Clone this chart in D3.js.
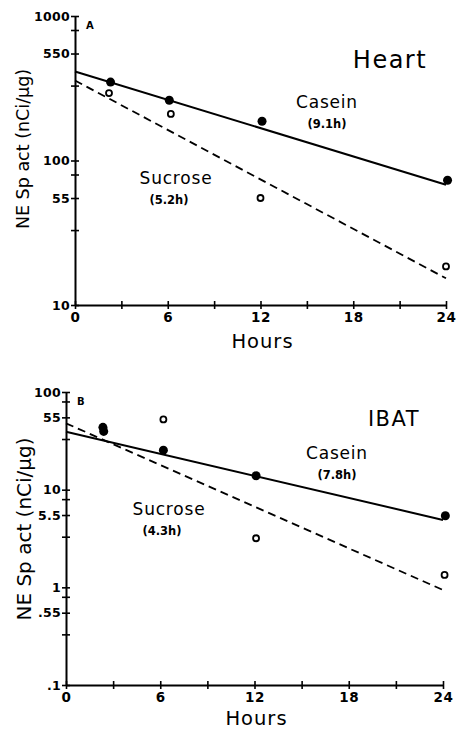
<!DOCTYPE html>
<html>
<head>
<meta charset="utf-8">
<script src="https://cdn.jsdelivr.net/npm/d3@7"></script>
<style>
  body { margin: 0; background: #fff; }
  text { font-family: "DejaVu Sans", sans-serif; fill: #000; }
</style>
</head>
<body>
<div id="chart"></div>
<script>
var width = 456;
var height = 729;

// hours ticks
var hourTicks = [0, 3, 6, 9, 12, 15, 18, 21, 24];
var hourLabels = [0, 6, 12, 18, 24];

// panel A - heart
var heartTicks = [10, 33, 55, 80, 100, 330, 550, 800, 1000];
var heartLabels = ['10', '55', '100', '550', '1000'];
var heartCaseinHours = [2.3, 6.1, 12.1, 24.1];
var heartCasein = [349, 261, 187, 73];
var heartSucroseHours = [2.2, 6.2, 12.0, 24.0];
var heartSucrose = [293, 210, 55, 18.5];
var heartCaseinFit = [[0, 413], [24, 68]];
var heartSucroseFit = [[0, 358], [24, 15.3]];

// panel B - IBAT
var ibatTicks = [0.1, 0.33, 0.55, 0.8, 1, 3.3, 5.5, 8, 10, 33, 55, 80, 100];
var ibatLabels = ['.1', '.55', '1', '5.5', '10', '55', '100'];
var ibatCaseinHours = [2.35, 2.4, 6.2, 12.1, 24.15];
var ibatCasein = [43.5, 39.5, 25.4, 13.9, 5.4];
var ibatSucroseHours = [6.2, 12.1, 24.1];
var ibatSucrose = [52.4, 3.18, 1.34];
var ibatCaseinFit = [[0, 39.2], [24, 4.9]];
var ibatSucroseFit = [[0, 47.8], [24, 0.94]];

var svg = d3.select('#chart').append('svg')
    .attr('width', width)
    .attr('height', height);

function drawPanel(p) {
    var g = svg.append('g');

    var x = d3.scaleLinear().domain([0, 24]).range([p.x0, p.x1]);
    var y = d3.scaleLog().domain(p.yDomain).range([p.yBottom, p.yTop]);

    // x axis
    var xAxis = g.append('g')
        .attr('transform', `translate(0, ${p.yBottom})`)
        .call(d3.axisBottom(x)
            .tickValues(hourTicks)
            .tickSizeOuter(0)
            .tickSizeInner(4)
            .tickPadding(3)
            .tickFormat(d => hourLabels.indexOf(d) >= 0 ? d : ''));
    xAxis.select('.domain').attr('stroke-width', 2);
    xAxis.selectAll('.tick line').attr('y1', -4).attr('y2', 4).attr('stroke-width', 1.6);
    xAxis.selectAll('.tick text')
        .style('font-family', '"DejaVu Sans", sans-serif')
        .style('font-size', '13.5px')
        .style('font-weight', 'bold')
        .style('letter-spacing', '0.5px');

    // y axis
    var yAxis = g.append('g')
        .attr('transform', `translate(${p.x0}, 0)`)
        .call(d3.axisLeft(y)
            .tickValues(p.ticks)
            .tickSizeOuter(0)
            .tickSizeInner(4)
            .tickPadding(1)
            .tickFormat(d => {
                var s = p.fmt(d);
                return p.labels.indexOf(s) >= 0 ? s : '';
            }));
    yAxis.select('.domain').attr('stroke-width', 2);
    yAxis.selectAll('.tick line').attr('x1', -4).attr('x2', 4).attr('stroke-width', 1.6);
    yAxis.selectAll('.tick text')
        .style('font-family', '"DejaVu Sans", sans-serif')
        .style('font-size', '12.5px')
        .style('font-weight', 'bold')
        .style('letter-spacing', '0.3px');

    // fit lines
    var line = d3.line().x(d => x(d[0])).y(d => y(d[1]));
    g.append('path')
        .attr('d', line(p.caseinFit))
        .attr('fill', 'none')
        .attr('stroke', '#000')
        .attr('stroke-width', 2);
    g.append('path')
        .attr('d', line(p.sucroseFit))
        .attr('fill', 'none')
        .attr('stroke', '#000')
        .attr('stroke-width', 1.8)
        .attr('stroke-dasharray', '8,5');

    // sucrose open circles
    g.selectAll('.suc')
        .data(p.sucroseHours.map((h, i) => [h, p.sucrose[i]]))
        .enter().append('circle')
        .attr('cx', d => x(d[0]))
        .attr('cy', d => y(d[1]))
        .attr('r', 3)
        .attr('fill', '#fff')
        .attr('stroke', '#000')
        .attr('stroke-width', 1.8);

    // casein closed circles
    g.selectAll('.cas')
        .data(p.caseinHours.map((h, i) => [h, p.casein[i]]))
        .enter().append('circle')
        .attr('cx', d => x(d[0]))
        .attr('cy', d => y(d[1]))
        .attr('r', 4.5)
        .attr('fill', '#000');

    // axis titles
    g.append('text')
        .attr('transform', `translate(${p.yTitleX}, ${p.yTitleY}) rotate(-90)`)
        .attr('text-anchor', 'middle')
        .style('font-size', p.yTitleSize + 'px')
        .text('NE Sp act (nCi/μg)');

    g.append('text')
        .attr('x', (p.x0 + p.x1) / 2 + 2)
        .attr('y', p.hoursY)
        .attr('text-anchor', 'middle')
        .style('font-size', '19.5px')
        .style('letter-spacing', '1px')
        .text('Hours');

    // panel letter
    g.append('text')
        .attr('x', p.x0 + 11)
        .attr('y', p.yTop + 13)
        .style('font-size', '10px')
        .style('font-weight', 'bold')
        .text(p.letter);

    // tissue name
    g.append('text')
        .attr('x', p.nameX)
        .attr('y', p.nameY)
        .attr('text-anchor', 'middle')
        .style('font-size', p.nameSize + 'px')
        .style('letter-spacing', '1.5px')
        .text(p.name);

    // series labels
    g.append('text')
        .attr('x', p.casX).attr('y', p.casY)
        .attr('text-anchor', 'middle')
        .style('font-size', '17px')
        .style('letter-spacing', '0.8px')
        .text('Casein');
    g.append('text')
        .attr('x', p.casX).attr('y', p.casY + 20)
        .attr('text-anchor', 'middle')
        .style('font-size', '11.5px')
        .style('font-weight', 'bold')
        .text(p.casHalf);
    g.append('text')
        .attr('x', p.sucX).attr('y', p.sucY)
        .attr('text-anchor', 'middle')
        .style('font-size', '17px')
        .style('letter-spacing', '0.8px')
        .text('Sucrose');
    g.append('text')
        .attr('x', p.sucX - 7).attr('y', p.sucY + 19.5)
        .attr('text-anchor', 'middle')
        .style('font-size', '11.5px')
        .style('font-weight', 'bold')
        .text(p.sucHalf);
}

drawPanel({
    x0: 75, x1: 446, yTop: 16, yBottom: 305,
    yDomain: [10, 1000],
    ticks: heartTicks, labels: heartLabels,
    fmt: d => String(d),
    caseinHours: heartCaseinHours, casein: heartCasein,
    sucroseHours: heartSucroseHours, sucrose: heartSucrose,
    caseinFit: heartCaseinFit, sucroseFit: heartSucroseFit,
    yTitleX: 29, yTitleY: 149, yTitleSize: 17.5,
    hoursY: 348, letter: 'A',
    name: 'Heart', nameX: 390, nameY: 68, nameSize: 24,
    casX: 327, casY: 108, casHalf: '(9.1h)',
    sucX: 176, sucY: 184, sucHalf: '(5.2h)'
});

drawPanel({
    x0: 66, x1: 443, yTop: 392, yBottom: 685,
    yDomain: [0.1, 100],
    ticks: ibatTicks, labels: ibatLabels,
    fmt: d => String(d).replace(/^0\./, '.'),
    caseinHours: ibatCaseinHours, casein: ibatCasein,
    sucroseHours: ibatSucroseHours, sucrose: ibatSucrose,
    caseinFit: ibatCaseinFit, sucroseFit: ibatSucroseFit,
    yTitleX: 31, yTitleY: 529, yTitleSize: 20,
    hoursY: 725, letter: 'B',
    name: 'IBAT', nameX: 394, nameY: 426, nameSize: 21,
    casX: 337, casY: 459, casHalf: '(7.8h)',
    sucX: 169, sucY: 515, sucHalf: '(4.3h)'
});
</script>
</body>
</html>
